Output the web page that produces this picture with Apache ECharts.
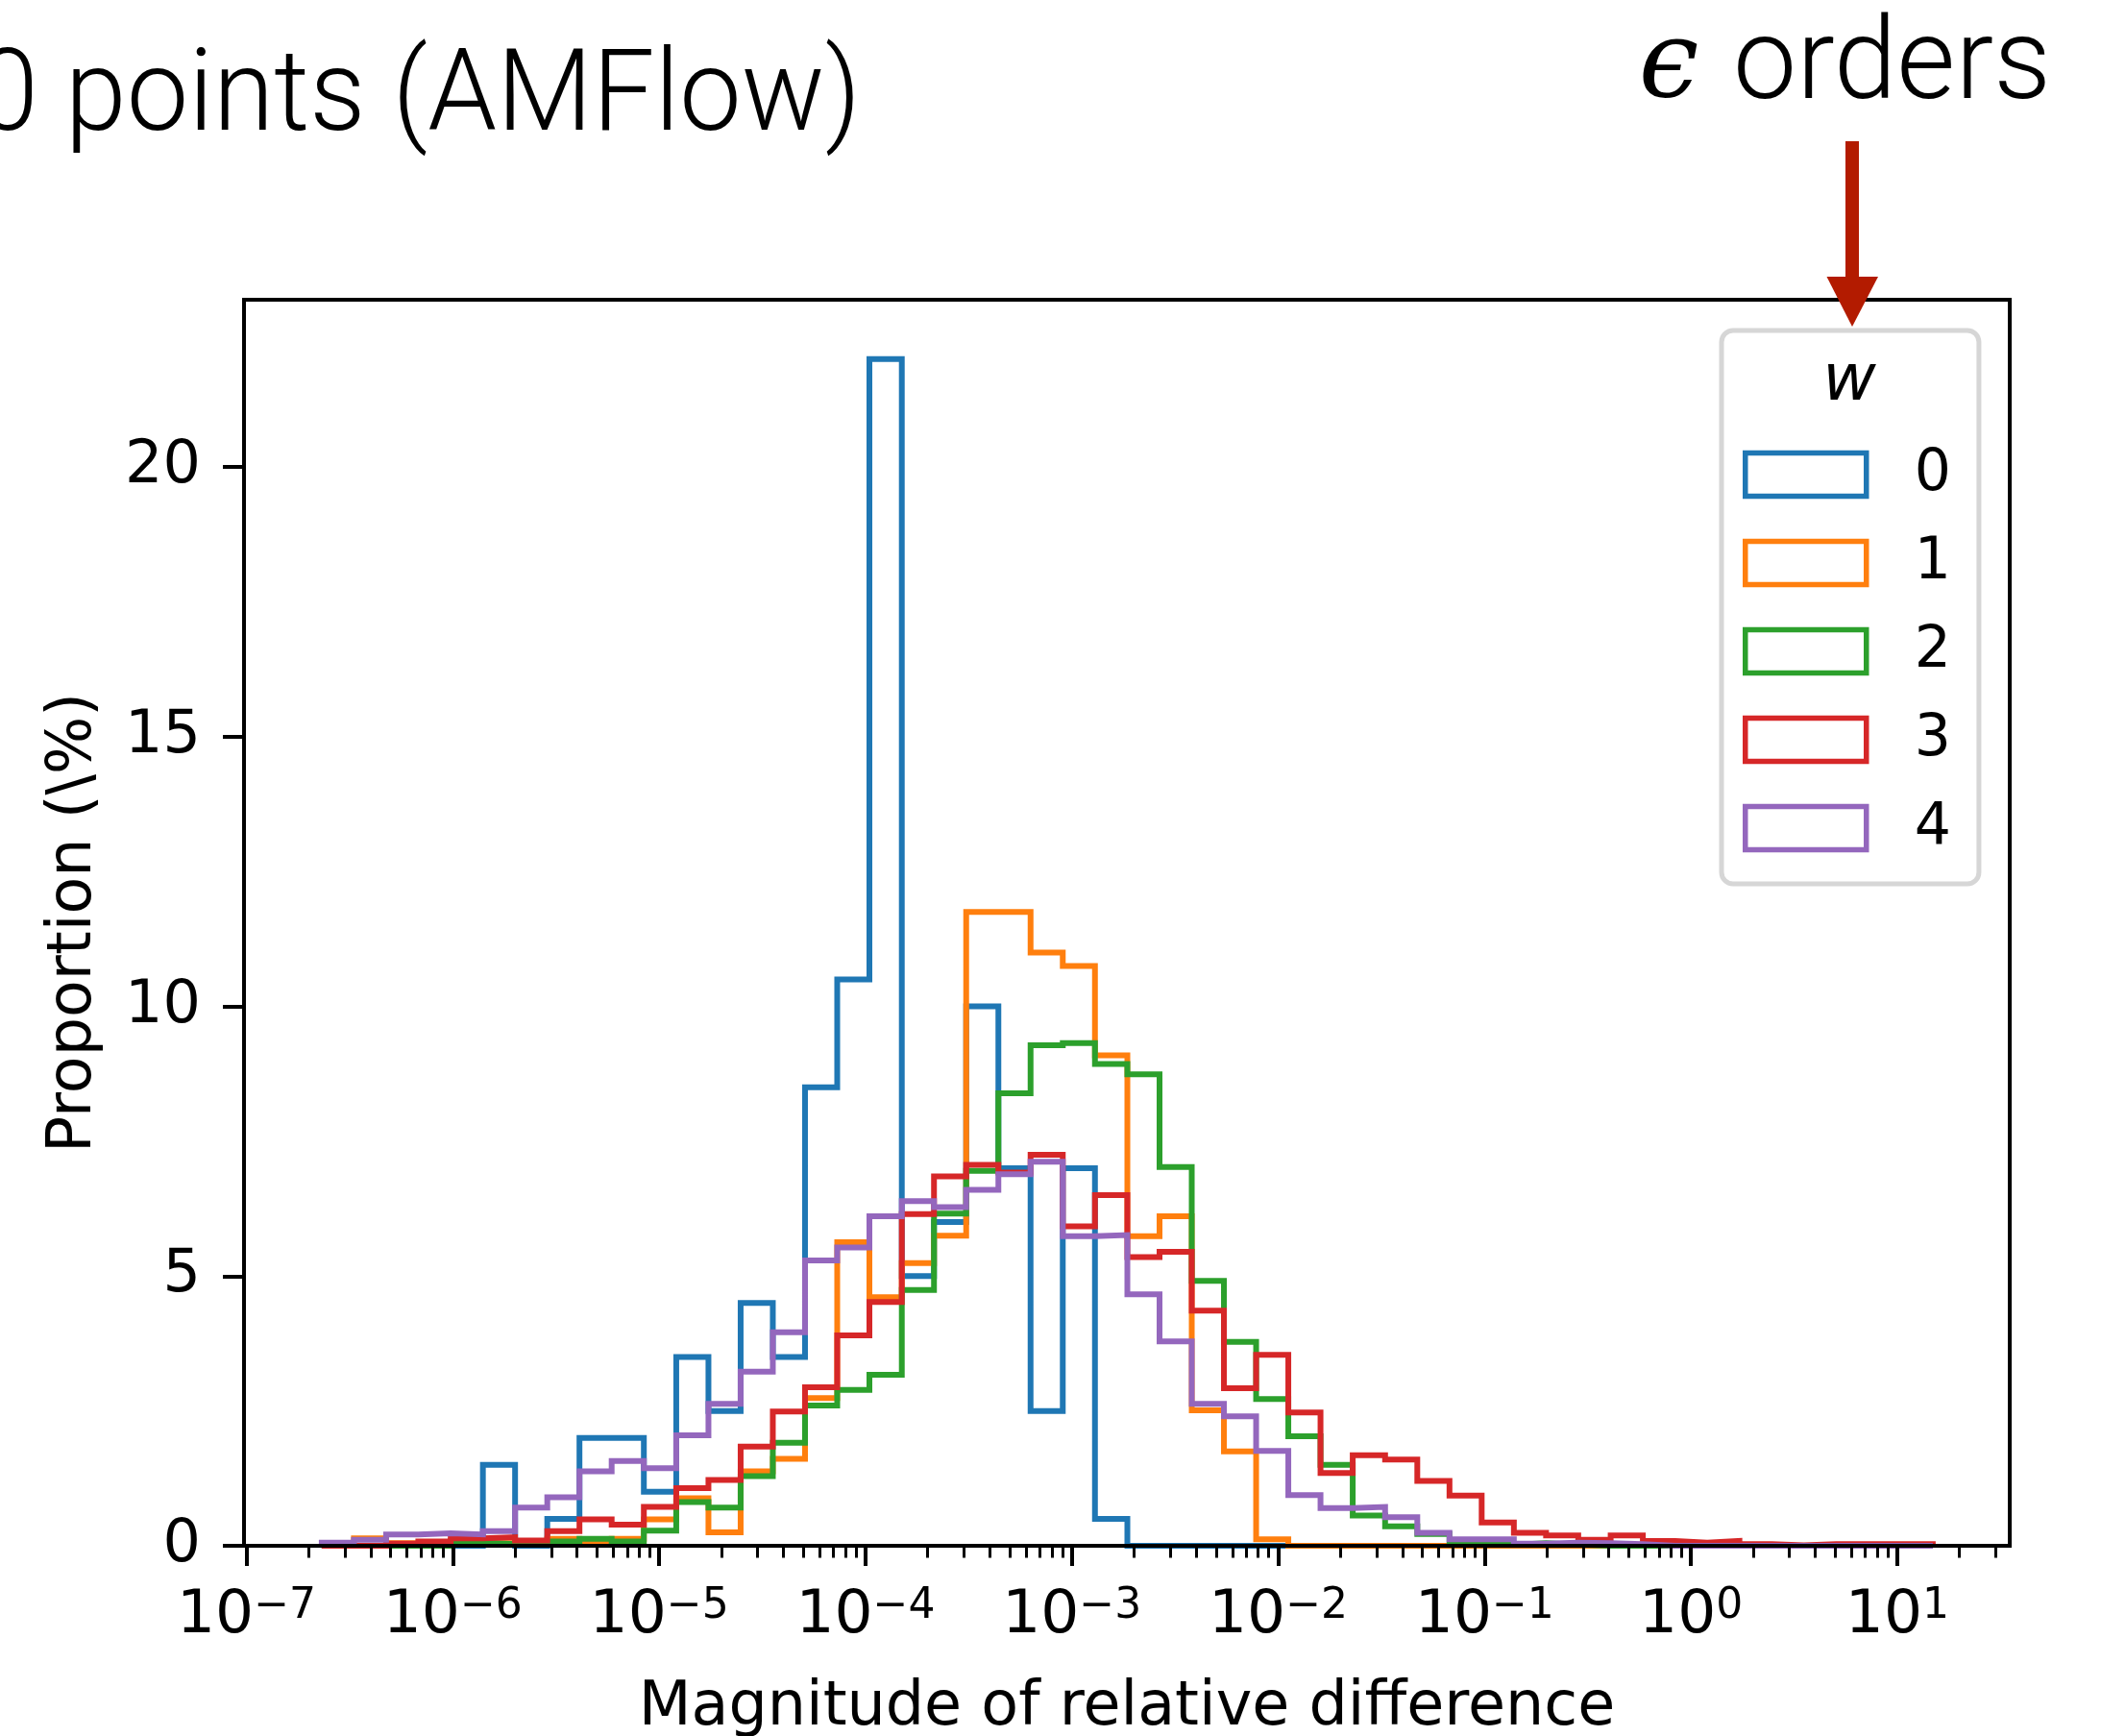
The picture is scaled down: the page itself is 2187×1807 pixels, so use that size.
<!DOCTYPE html>
<html><head><meta charset="utf-8">
<script src="https://cdn.jsdelivr.net/npm/echarts@6/dist/echarts.min.js"></script>
<style>html,body{margin:0;padding:0;background:#fff;}#c{width:2187px;height:1807px;}</style>
</head><body><div id="c"></div>
<script>
// bin edges as log10 of the relative difference (50 log-spaced bins)
const logEdges = [-6.635,-6.479,-6.323,-6.167,-6.010,-5.854,-5.698,-5.542,-5.386,-5.230,
  -5.074,-4.917,-4.761,-4.605,-4.449,-4.293,-4.137,-3.981,-3.824,-3.668,
  -3.512,-3.356,-3.200,-3.044,-2.888,-2.731,-2.575,-2.419,-2.263,-2.107,
  -1.951,-1.795,-1.639,-1.482,-1.326,-1.170,-1.014,-0.858,-0.702,-0.546,
  -0.389,-0.233,-0.077,0.079,0.235,0.391,0.547,0.704,0.860,1.016,1.172];

const w0 = [0,0,0,0,0,1.5,0,0.5,2,2, 1,3.5,2.5,4.5,3.5,8.5,10.5,22,5,6,
  10,7,2.5,7,0.5,0,0,0,0,0, 0,0,0,0,0,0,0,0,0,0, 0,0,0,0,0,0,0,0,0,0];
const w1 = [0,0.14,0.05,0.05,0.09,0.05,0.05,0.13,0.06,0.13, 0.49,0.88,0.25,1.38,1.61,2.74,5.63,4.61,5.24,5.75,
  11.75,11.75,11.0,10.75,9.09,5.74,6.11,2.51,1.75,0.12, 0,0,0,0,0,0,0,0,0,0, 0,0,0,0,0,0,0,0,0,0];
const w2 = [0,0,0,0,0.06,0.03,0.02,0.08,0.13,0.08, 0.28,0.81,0.71,1.29,1.91,2.6,2.89,3.17,4.74,6.16,
  6.95,8.39,9.28,9.32,8.93,8.74,7.02,4.91,3.78,2.72, 2.03,1.5,0.56,0.36,0.22,0.03,0.02,0.05,0.02,0, 0,0,0,0,0,0,0,0,0,0];
const w3 = [0,0,0.04,0.08,0.14,0.16,0.1,0.27,0.49,0.39, 0.72,1.07,1.22,1.84,2.49,2.94,3.9,4.52,6.15,6.85,
  7.06,6.92,7.25,5.92,6.5,5.35,5.45,4.36,2.92,3.54, 2.47,1.35,1.68,1.6,1.2,0.93,0.43,0.24,0.19,0.11,
  0.19,0.09,0.06,0.09,0.03,0.01,0.03,0.03,0.03,0.03];
const w4 = [0.06,0.11,0.21,0.23,0.21,0.27,0.71,0.9,1.38,1.57, 1.44,2.05,2.63,3.23,3.96,5.29,5.53,6.11,6.39,6.28,
  6.6,6.89,7.12,5.74,5.76,4.66,3.79,2.63,2.4,1.76, 0.94,0.7,0.72,0.53,0.24,0.12,0.12,0.04,0.06,0.05,
  0.03,0,0,0,0,0,0,0,0,0];

const seriesNames = ['0','1','2','3','4'];
const seriesValues = [w0,w1,w2,w3,w4];
const colors = ['#1f77b4','#ff7f0e','#2ca02c','#d62728','#9467bd'];
const majorExps = [-7,-6,-5,-4,-3,-2,-1,0,1];
const minorMults = [2,3,4,5,6,7,8,9];
const yTicks = [0,5,10,15,20];
const xLogMin = -7.0116, xLogMax = 1.5449;
const yMax = 23.1;

const xMin = Math.pow(10, xLogMin), xMax = Math.pow(10, xLogMax);
const majorVals = majorExps.map(e => Math.pow(10, e));
const minorVals = [];
for (let e = -8; e <= 1; e++) for (const m of minorMults) {
  const v = m * Math.pow(10, e);
  if (v > xMin && v < xMax) minorVals.push(v);
}

function stepPoints(vals) {
  const pts = [[Math.pow(10, logEdges[0]), 0]];
  for (let i = 0; i < vals.length; i++) {
    pts.push([Math.pow(10, logEdges[i]), vals[i]]);
    pts.push([Math.pow(10, logEdges[i + 1]), vals[i]]);
  }
  pts.push([Math.pow(10, logEdges[vals.length]), 0]);
  return pts;
}

const chart = echarts.init(document.getElementById('c'), null, {renderer: 'canvas'});
const FONT = 'DejaVu Sans';
const option = {
  animation: false,
  backgroundColor: '#ffffff',
  grid: {left: 254, top: 312, width: 1838, height: 1297, show: true,
    containLabel: false, outerBoundsMode: 'none',
    borderColor: '#000', borderWidth: 4, backgroundColor: 'transparent'},
  xAxis: [{
    type: 'log', logBase: 10, min: xMin, max: xMax, position: 'bottom', z: 3,
    axisLine: {show: true, lineStyle: {color: '#000', width: 4}},
    axisTick: {show: true, length: 21, lineStyle: {color: '#000', width: 4}, customValues: majorVals},
    axisLabel: {customValues: majorVals, margin: 42, showMinLabel: true, showMaxLabel: true,
      formatter: function (v) {
        const n = Math.round(Math.log10(v));
        return '{b|10}{s|' + (n < 0 ? '\u2212' + (-n) : String(n)) + '}';
      },
      rich: {
        b: {fontFamily: FONT, fontSize: 63, lineHeight: 63, color: '#000'},
        s: {fontFamily: FONT, fontSize: 44, lineHeight: 29, verticalAlign: 'top', color: '#000'}
      }},
    splitLine: {show: false}, minorTick: {show: false},
    name: 'Magnitude of relative difference', nameLocation: 'middle', nameGap: 137,
    nameTextStyle: {fontFamily: FONT, fontSize: 63.5, color: '#000'}
  }, {
    type: 'log', logBase: 10, min: xMin, max: xMax, position: 'bottom', offset: 0, z: 3,
    axisLine: {show: false},
    axisTick: {show: true, length: 12.5, lineStyle: {color: '#000', width: 3}, customValues: minorVals},
    axisLabel: {show: false}, splitLine: {show: false}
  }],
  yAxis: {
    type: 'value', min: 0, max: yMax, z: 3,
    axisLine: {show: true, lineStyle: {color: '#000', width: 4}},
    axisTick: {show: true, length: 22, lineStyle: {color: '#000', width: 4}, customValues: yTicks},
    axisLabel: {customValues: yTicks, margin: 45, fontFamily: FONT, fontSize: 62, color: '#000'},
    splitLine: {show: false},
    name: 'Proportion (\\%)', nameLocation: 'middle', nameGap: 145,
    nameTextStyle: {fontFamily: FONT, fontSize: 63.5, color: '#000'}
  },
  legend: {
    orient: 'vertical', left: 1792, top: 344,
    padding: [120, 29, 28, 22],
    itemWidth: 126, itemHeight: 45, itemGap: 32,
    icon: 'rect', selectedMode: false,
    borderColor: '#d6d6d6', borderWidth: 5, borderRadius: 12, backgroundColor: '#fff',
    textStyle: {fontFamily: FONT, fontSize: 60, color: '#000', padding: [0, 0, 0, 45], lineHeight: 45},
    data: seriesNames.map((n, i) => ({name: n, itemStyle: {color: '#fff', borderColor: colors[i], borderWidth: 5.5}}))
  },
  series: seriesNames.map((n, i) => ({
    name: n, type: 'line', xAxisIndex: 0, yAxisIndex: 0,
    data: stepPoints(seriesValues[i]),
    showSymbol: false, symbol: 'none', color: colors[i],
    lineStyle: {color: colors[i], width: 6, join: 'miter', cap: 'butt'},
    z: 2
  })),
  graphic: [
    {type: 'text', x: -24, y: 105, scaleX: 0.975, z: 10,
      style: {text: '0 points (AMFlow)', fontFamily: 'Roboto', fontWeight: 300, fontSize: 118,
        fill: '#000', align: 'left', verticalAlign: 'middle'}},
    {type: 'text', x: 1737, y: 71, z: 10,
      style: {text: '\u03f5', fontFamily: 'DejaVu Serif', fontStyle: 'italic', fontSize: 112,
        fill: '#000', align: 'center', verticalAlign: 'middle'}},
    {type: 'text', x: 1804, y: 72, scaleX: 1.0, z: 10,
      style: {text: 'orders', fontFamily: 'Roboto', fontWeight: 300, fontSize: 118,
        fill: '#000', align: 'left', verticalAlign: 'middle'}},
    {type: 'rect', z: 20, shape: {x: 1921, y: 147, width: 14, height: 142}, style: {fill: '#b31b00'}},
    {type: 'polygon', z: 20, shape: {points: [[1901.5, 288], [1955, 288], [1928, 340]]}, style: {fill: '#b31b00'}},
    {type: 'text', x: 1925, y: 398, z: 20,
      style: {text: 'w', fontFamily: FONT, fontStyle: 'italic', fontSize: 68, fill: '#000',
        align: 'center', verticalAlign: 'middle'}}
  ]
};
chart.setOption(option);
</script></body></html>
